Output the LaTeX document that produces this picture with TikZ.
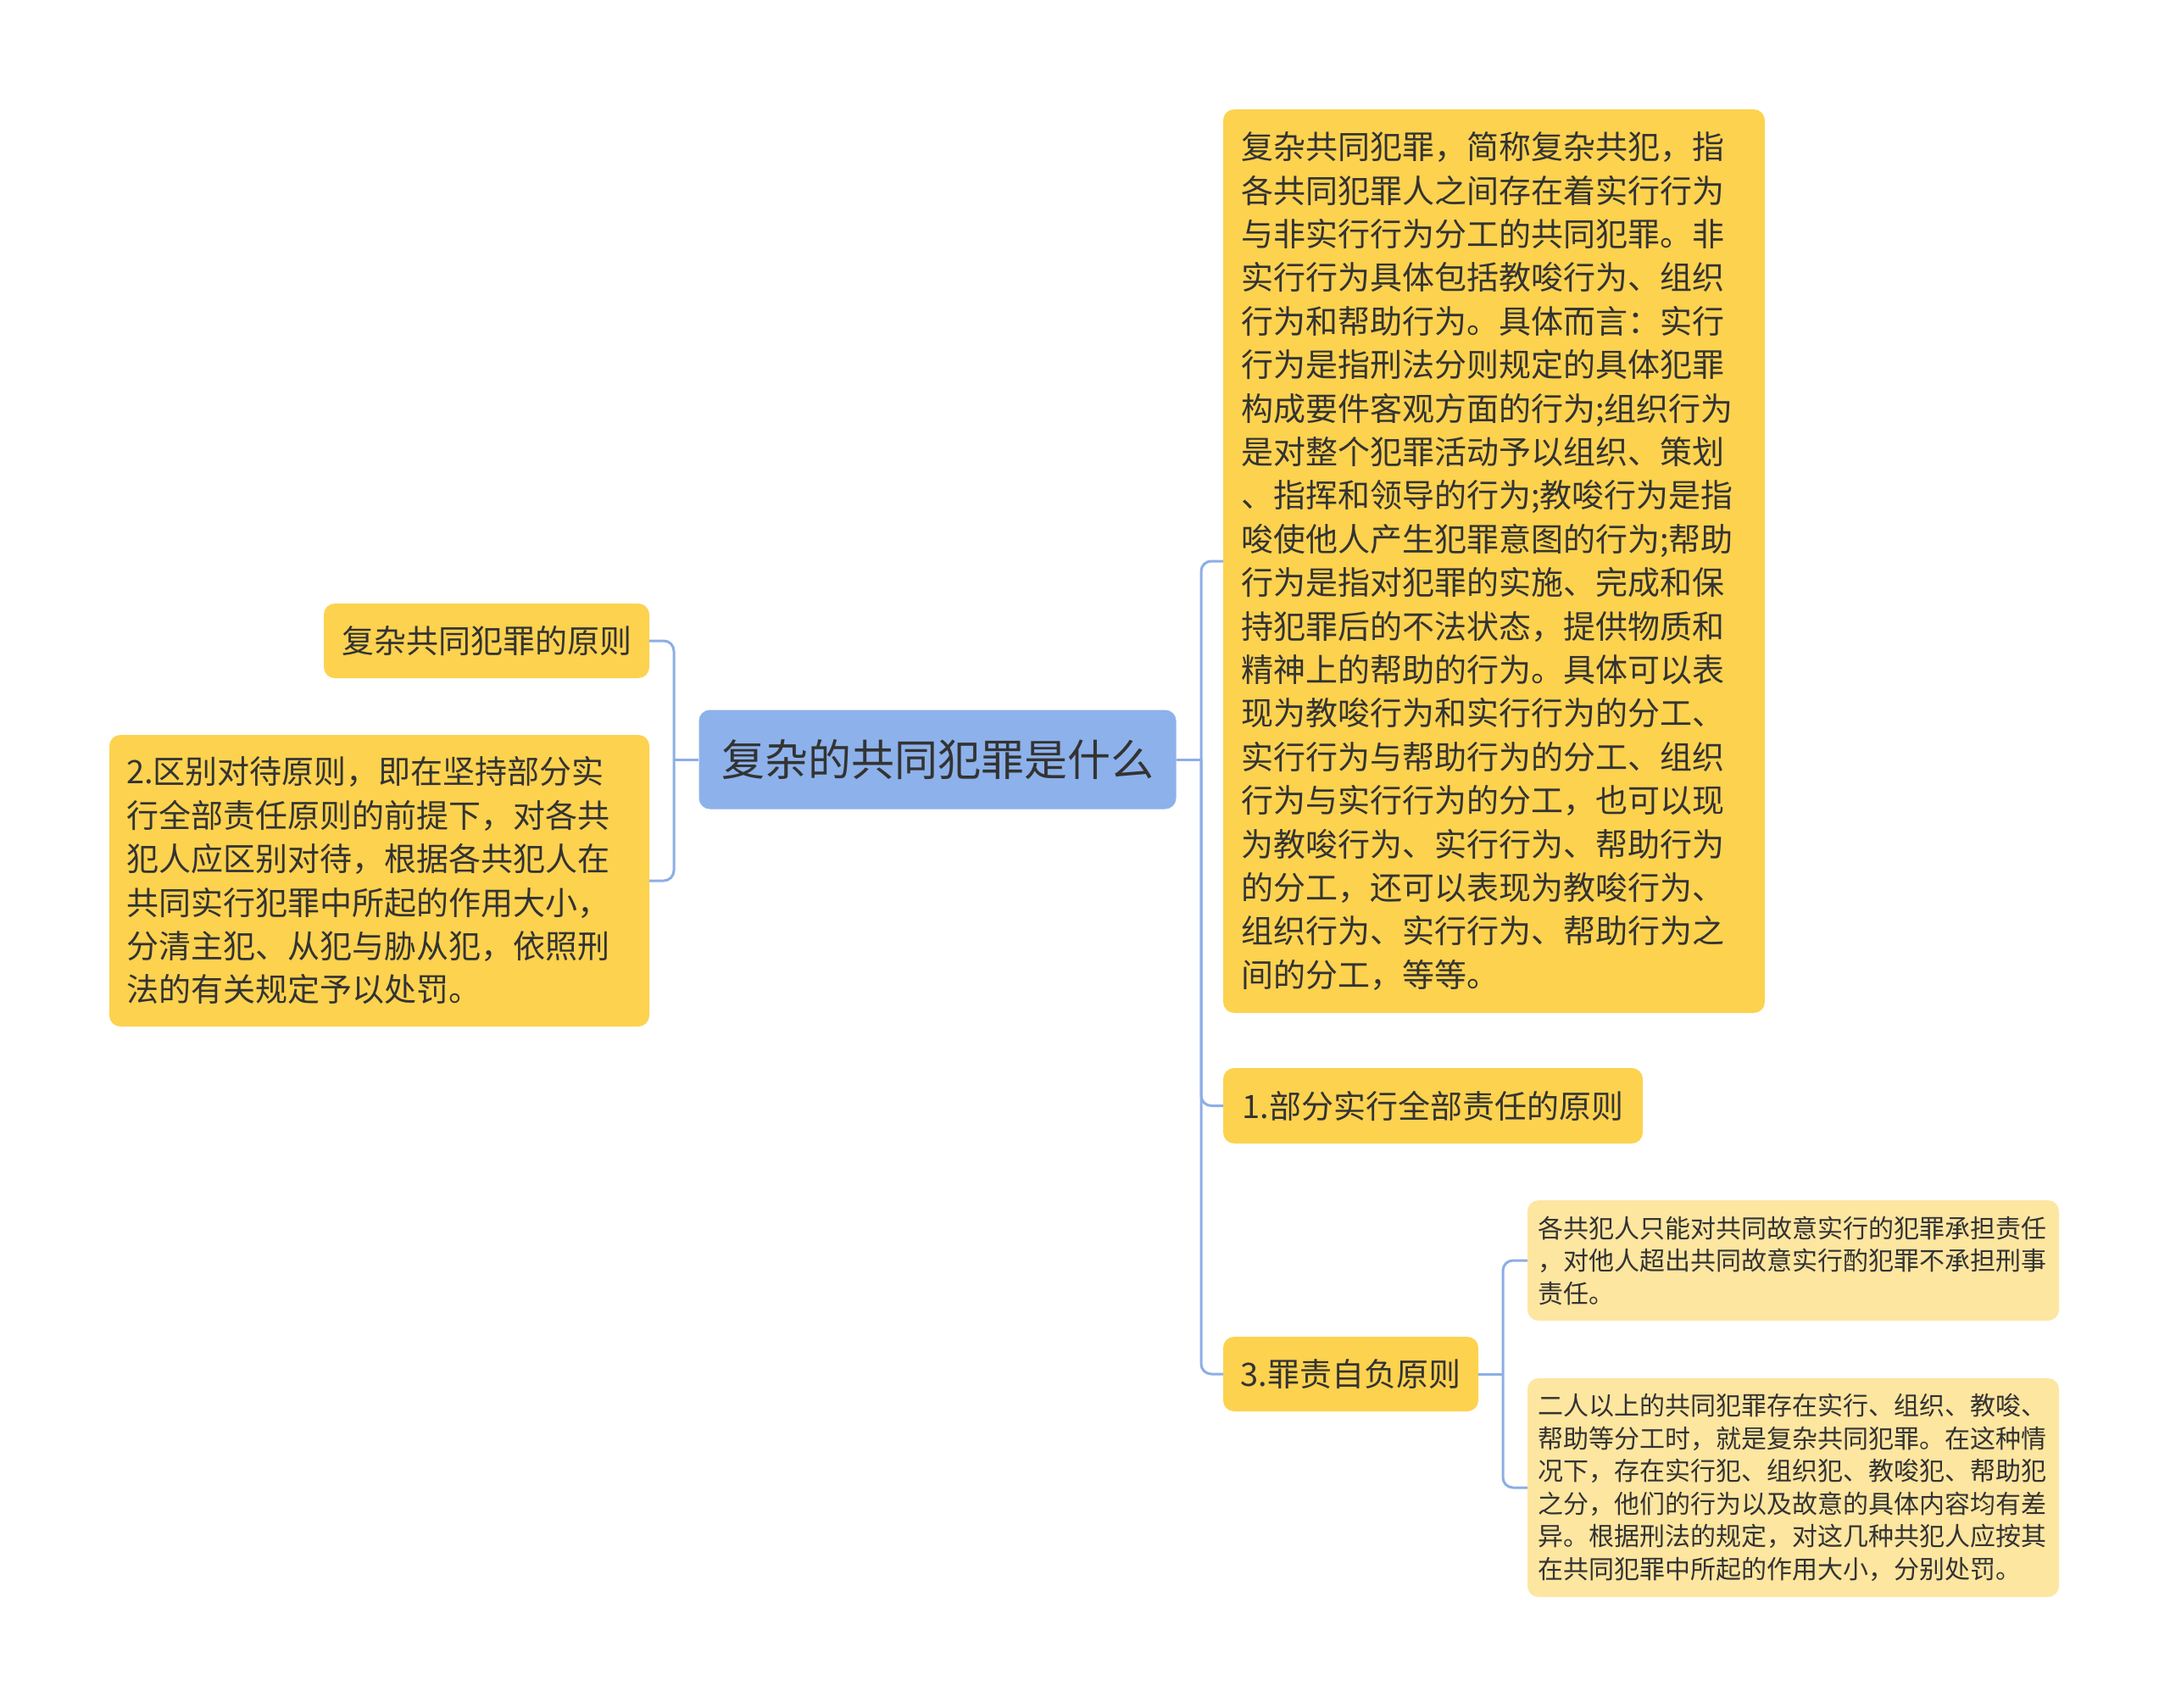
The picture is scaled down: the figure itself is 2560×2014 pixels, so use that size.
\documentclass[tikz,border=0pt]{standalone}
\usepackage{fontspec}
\setmainfont{Noto Sans CJK SC}
\usepackage{tikz}
\definecolor{rootblue}{HTML}{8DB1EA}
\definecolor{leafyellow}{HTML}{FCD24F}
\definecolor{paleyellow}{HTML}{FDE6A0}
\definecolor{linkblue}{HTML}{8DAEE6}
\definecolor{inktext}{HTML}{333333}
\tikzstyle{box}=[rectangle,rounded corners=13pt,text=inktext,inner sep=0pt]
\tikzstyle{topic}=[box,fill=rootblue,font=\fontsize{51pt}{60pt}\selectfont]
\tikzstyle{leaf}=[box,fill=leafyellow,font=\fontsize{38pt}{51.4pt}\selectfont]
\tikzstyle{subleaf}=[box,fill=paleyellow,font=\fontsize{30pt}{38.5pt}\selectfont]
\tikzstyle{link}=[draw=linkblue,line width=3pt,rounded corners=12pt]
\tikzstyle{elbow}=[to path={|- (\tikztotarget)}]
\newcommand{\leaf}{\node[leaf]}
\newcommand{\subleaf}{\node[subleaf]}

\begin{document}
\begin{tikzpicture}[x=1pt,y=-1pt]
		\path[fill=white] (0,0) rectangle (2560,2014);
		\useasboundingbox (0,0) rectangle (2560,2014);
		% % % % % % % % % % % % % % % % % % % % % % % % % % % % %
		\node[topic,minimum width=563pt,minimum height=117pt] (root) at (1106,896) {复杂的共同犯罪是什么};
		%*********************
		\leaf [minimum width=384pt,minimum height=88pt] (l1) at (574,756) {复杂共同犯罪的原则};
		\leaf [minimum width=637pt,minimum height=344pt,text width=597pt,align=left] (l2) at (447.5,1039) {2.区别对待原则，即在坚持部分实\\
行全部责任原则的前提下，对各共\\
犯人应区别对待，根据各共犯人在\\
共同实行犯罪中所起的作用大小，\\
分清主犯、从犯与胁从犯，依照刑\\
法的有关规定予以处罚。};
		%*********************
		\leaf [minimum width=639pt,minimum height=1066pt,text width=597pt,align=left] (r1) at (1762.5,662) {复杂共同犯罪，简称复杂共犯，指\\
各共同犯罪人之间存在着实行行为\\
与非实行行为分工的共同犯罪。非\\
实行行为具体包括教唆行为、组织\\
行为和帮助行为。具体而言：实行\\
行为是指刑法分则规定的具体犯罪\\
构成要件客观方面的行为;组织行为\\
是对整个犯罪活动予以组织、策划\\
、指挥和领导的行为;教唆行为是指\\
唆使他人产生犯罪意图的行为;帮助\\
行为是指对犯罪的实施、完成和保\\
持犯罪后的不法状态，提供物质和\\
精神上的帮助的行为。具体可以表\\
现为教唆行为和实行行为的分工、\\
实行行为与帮助行为的分工、组织\\
行为与实行行为的分工，也可以现\\
为教唆行为、实行行为、帮助行为\\
的分工，还可以表现为教唆行为、\\
组织行为、实行行为、帮助行为之\\
间的分工，等等。};
		\leaf [minimum width=495pt,minimum height=89pt] (r2) at (1690.5,1304.5) {1.部分实行全部责任的原则};
		\leaf [minimum width=301pt,minimum height=88pt] (r3) at (1593.5,1621) {3.罪责自负原则};
		%*********************
		\subleaf [minimum width=627pt,minimum height=142pt,text width=603pt,align=left] (r3a) at (2115.5,1487) {各共犯人只能对共同故意实行的犯罪承担责任\\
，对他人超出共同故意实行酌犯罪不承担刑事\\
责任。};
		\subleaf [minimum width=627pt,minimum height=258pt,text width=603pt,align=left] (r3b) at (2115.5,1755) {二人以上的共同犯罪存在实行、组织、教唆、\\
帮助等分工时，就是复杂共同犯罪。在这种情\\
况下，存在实行犯、组织犯、教唆犯、帮助犯\\
之分，他们的行为以及故意的具体内容均有差\\
异。根据刑法的规定，对这几种共犯人应按其\\
在共同犯罪中所起的作用大小，分别处罚。};
		%*********************
		\coordinate (lfork) at (795,896);
		\coordinate (rfork) at (1417,896);
		\coordinate (r3fork) at (1773,1621);
		%***************
		\path
		%**************
		(root.west) edge [link] (lfork)
		(lfork) edge [link,elbow] (l1.east)
		(lfork) edge [link,elbow] (l2.east)
		%**************
		(root.east) edge [link] (rfork)
		(rfork) edge [link,elbow] (r1.west)
		(rfork) edge [link,elbow] (r2.west)
		(rfork) edge [link,elbow] (r3.west)
		%**************
		(r3.east) edge [link] (r3fork)
		(r3fork) edge [link,elbow] (r3a.west)
		(r3fork) edge [link,elbow] (r3b.west)
		%********************
		;
\end{tikzpicture}
\end{document}
